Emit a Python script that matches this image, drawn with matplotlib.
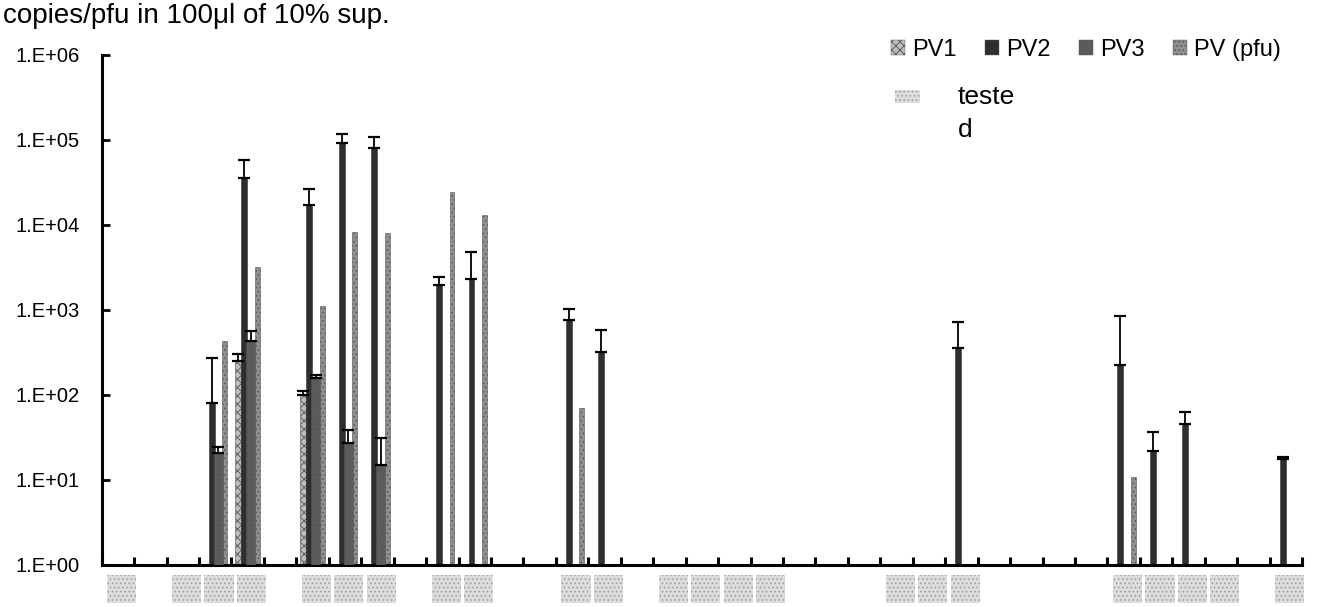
import numpy as np
import matplotlib
matplotlib.use("Agg")
import matplotlib.pyplot as plt
from matplotlib.patches import Patch, Rectangle
from matplotlib.transforms import blended_transform_factory

plt.rcParams['font.family'] = ['Liberation Sans', 'DejaVu Sans']
plt.rcParams['hatch.linewidth'] = 0.6

# 37 samples along the x axis (labels not legible in the scan)
n_cat = 37

# samples marked as tested (patch under the axis)
tested = [0, 2, 3, 4, 6, 7, 8, 10, 11, 14, 15, 17, 18, 19, 20,
          24, 25, 26, 31, 32, 33, 34, 36]

# PV1
pv1_cat = [4, 6]
pv1_val = [250, 100]
pv1_top = [303, 112]

# PV2
pv2_cat = [3, 4, 6, 7, 8, 10, 11, 14, 15, 26, 31, 32, 33, 36]
pv2_val = [80, 35400, 17200, 91400, 79800, 1970, 2300, 763, 323, 357, 225, 22, 45, 17.5]
pv2_top = [275, 58000, 26500, 117000, 109000, 2470, 4850, 1030, 582, 722, 850, 37, 63, 18.5]

# PV3
pv3_cat = [3, 4, 6, 7, 8]
pv3_val = [21, 435, 157, 27, 15]
pv3_top = [24.6, 566, 172, 38.7, 31]

# PV (pfu)
pfu_cat = [3, 4, 6, 7, 8, 10, 11, 14, 31]
pfu_val = [435, 3200, 1100, 8340, 7980, 24600, 13100, 70, 10.9]

# name, cats, values, error tops, offset, width, colour, hatch, zorder
series = [
    ("PV1", pv1_cat, pv1_val, pv1_top, -0.3, 0.18, "#bdbdbd", "xxxx", 2),
    ("PV2", pv2_cat, pv2_val, pv2_top, -0.1, 0.18, "#2e2e2e", None, 2),
    ("PV3", pv3_cat, pv3_val, pv3_top, 0.1, 0.28, "#5c5c5c", "....", 3),
    ("PV (pfu)", pfu_cat, pfu_val, None, 0.3, 0.15, "#8f8f8f", "....", 2),
]

fig = plt.figure(figsize=(13.2, 6.07), dpi=100)
ax = fig.add_axes([0.077, 0.0692, 0.9094, 0.8402])

handles = []
for name, cats, vals, tops, off, width, color, hatch, z in series:
    x = np.array(cats) + 0.5 + off
    v = np.array(vals, dtype=float)
    ax.bar(x, v - 1, bottom=1, width=width, color=color, hatch=hatch,
           edgecolor="#555555" if hatch else color, linewidth=0.4, zorder=z)
    if tops is not None:
        t = np.array(tops, dtype=float)
        ax.errorbar(x, v, yerr=[np.zeros_like(v), t - v], fmt="none",
                    ecolor="black", elinewidth=1.3, capsize=4.5, capthick=1.6, zorder=4)
    handles.append(Patch(facecolor=color, hatch=hatch, edgecolor="#555555", linewidth=0.3, label=name))

ax.set_yscale("log")
ax.set_ylim(1, 1e6)
ax.set_xlim(0, n_cat)
ax.set_yticks([10.0 ** k for k in range(7)])
ax.set_yticklabels(["1.E+%02d" % k for k in range(7)])
ax.yaxis.set_minor_locator(matplotlib.ticker.NullLocator())
ax.set_xticks(np.arange(n_cat + 1))
ax.set_xticklabels([])

for s in ["top", "right"]:
    ax.spines[s].set_visible(False)
for s in ["left", "bottom"]:
    ax.spines[s].set_linewidth(2.2)
ax.tick_params(axis="y", direction="in", length=6, width=2, labelsize=14.5, pad=16)
ax.tick_params(axis="x", direction="in", length=6, width=2.2)

# tested markers below the axis
trans = blended_transform_factory(ax.transData, ax.transAxes)
for c in tested:
    ax.add_patch(Rectangle((c + 0.17, -0.075), 0.9, 0.055, transform=trans,
                           facecolor="#dcdcdc", hatch="....", edgecolor="#9a9a9a",
                           linewidth=0, clip_on=False))

fig.text(0.002, 0.995, "copies/pfu in 100μl of 10% sup.", fontsize=20, va="top", ha="left")

fig.legend(handles=handles, loc="center left", bbox_to_anchor=(0.666, 0.918), ncol=4,
           frameon=False, fontsize=17, handlelength=0.6, handleheight=0.6,
           handletextpad=0.3, columnspacing=1.2, borderpad=0)

fig.patches.append(Rectangle((895 / 1320, 1 - 103 / 607), 25 / 1320, 13 / 607,
                             transform=fig.transFigure, facecolor="#dcdcdc", hatch="....",
                             edgecolor="#9a9a9a", linewidth=0))
fig.text(958 / 1320, 1 - 97 / 607, "teste", fontsize=19, va="center", ha="left")
fig.text(958 / 1320, 1 - 130 / 607, "d", fontsize=19, va="center", ha="left")

fig.savefig("out.png", dpi=100)
